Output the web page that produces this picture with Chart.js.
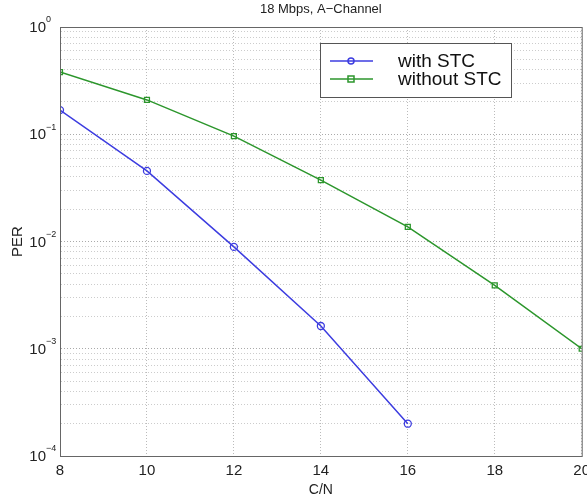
<!DOCTYPE html>
<html>
<head>
<meta charset="utf-8">
<script src="https://cdn.jsdelivr.net/npm/chart.js@4/dist/chart.umd.min.js"></script>
<style>
  html, body { margin: 0; padding: 0; background: #fff; }
  #wrap { width: 587px; height: 502px; }
</style>
</head>
<body>
<div id="wrap"><canvas id="perChart"></canvas></div>
<script>
// C/N values (dB)
const cnWith = [8, 10, 12, 14, 16];
const cnWithout = [8, 10, 12, 14, 16, 18, 20];
// packet error rate
const perWith = [0.168, 0.0455, 0.0089, 0.00163, 0.0002];
const perWithout = [0.38, 0.209, 0.096, 0.0374, 0.0137, 0.0039, 0.001];
const decades = [-4, -3, -2, -1, 0];
const xTicks = [8, 10, 12, 14, 16, 18, 20];
const chartTitle = '18 Mbps, A\u2212Channel';

const FONT = '"Liberation Sans", Arial, sans-serif';
const BLUE = '#3d3de0';
const GREEN = '#2c962c';

// box around the plot, title, legend, y tick labels with superscripts
const extras = {
    id: 'extras',
    afterDraw(chart) {
        const { ctx, chartArea: a, scales } = chart;
        ctx.save();
        ctx.strokeStyle = '#666';
        ctx.lineWidth = 1;
        ctx.strokeRect(a.left + 0.5, a.top + 0.5, a.right - a.left, a.bottom - a.top);

        // title centred over the plot area
        ctx.fillStyle = '#222';
        ctx.font = '13px ' + FONT;
        ctx.textAlign = 'center';
        ctx.textBaseline = 'middle';
        ctx.fillText(chartTitle, (a.left + a.right) / 2, 9);

        // y labels 10^k
        decades.forEach(k => {
            const y = scales.y.getPixelForValue(Math.pow(10, k));
            ctx.font = '15px ' + FONT;
            ctx.textAlign = 'right';
            ctx.fillText('10', 46, y + 1);
            ctx.font = '9px ' + FONT;
            ctx.textAlign = 'left';
            ctx.fillText(k === 0 ? '0' : '\u2212' + Math.abs(k), 46, y - 7);
        });

        // legend
        const lx = 320, ly = 43, lw = 191, lh = 54;
        ctx.fillStyle = '#fff';
        ctx.fillRect(lx, ly, lw, lh);
        ctx.strokeStyle = '#555';
        ctx.strokeRect(lx + 0.5, ly + 0.5, lw, lh);
        const items = [
            { label: 'with STC', color: BLUE, shape: 'circle', y: 61 },
            { label: 'without STC', color: GREEN, shape: 'rect', y: 79 }
        ];
        items.forEach(it => {
            ctx.strokeStyle = it.color;
            ctx.lineWidth = 1.5;
            ctx.beginPath();
            ctx.moveTo(330, it.y);
            ctx.lineTo(373, it.y);
            ctx.stroke();
            ctx.beginPath();
            if (it.shape === 'circle') ctx.arc(351, it.y, 3, 0, Math.PI * 2);
            else ctx.rect(348, it.y - 3, 6, 6);
            ctx.stroke();
            ctx.fillStyle = '#111';
            ctx.font = '19px ' + FONT;
            ctx.textAlign = 'left';
            ctx.textBaseline = 'middle';
            ctx.fillText(it.label, 398, it.y + 1);
        });
        ctx.restore();
    }
};

new Chart(document.getElementById('perChart'), {
    type: 'line',
    data: {
        datasets: [
            {
                label: 'with STC',
                data: cnWith.map((x, i) => ({ x, y: perWith[i] })),
                borderColor: BLUE,
                backgroundColor: 'rgba(0,0,0,0)',
                borderWidth: 1.5,
                pointStyle: 'circle',
                pointRadius: 3.5,
                pointBorderWidth: 1.3,
                tension: 0
            },
            {
                label: 'without STC',
                data: cnWithout.map((x, i) => ({ x, y: perWithout[i] })),
                borderColor: GREEN,
                backgroundColor: 'rgba(0,0,0,0)',
                borderWidth: 1.5,
                pointStyle: 'rect',
                pointRadius: 3.5,
                pointBorderWidth: 1.3,
                tension: 0
            }
        ]
    },
    options: {
        responsive: true,
        maintainAspectRatio: false,
        animation: false,
        layout: { padding: { left: 0, right: 5, top: 27, bottom: 0 } },
        plugins: {
            legend: { display: false },
            tooltip: { enabled: false },
            title: { display: false }
        },
        scales: {
            x: {
                type: 'linear',
                min: 8,
                max: 20,
                afterBuildTicks: s => { s.ticks = xTicks.map(v => ({ value: v })); },
                afterFit: s => { s.height = 46; s.paddingLeft = 0; s.paddingRight = 0; },
                ticks: {
                    color: '#222',
                    font: { family: FONT, size: 15 },
                    padding: 6,
                    maxRotation: 0
                },
                grid: { color: '#bbb', lineWidth: 1, drawTicks: false },
                border: { color: '#666', dash: [1, 2] },
                title: {
                    display: true,
                    text: 'C/N',
                    color: '#222',
                    font: { family: FONT, size: 14 },
                    padding: { top: 0, bottom: 3 }
                }
            },
            y: {
                type: 'logarithmic',
                min: 1e-4,
                max: 1,
                afterBuildTicks: s => {
                    const t = [];
                    decades.forEach(k => {
                        for (let m = 1; m <= 9; m++) {
                            const v = m * Math.pow(10, k);
                            if (v <= 1) t.push({ value: v, major: m === 1 });
                        }
                    });
                    s.ticks = t;
                },
                afterFit: s => { s.width = 60; s.paddingTop = 0; s.paddingBottom = 0; },
                ticks: { display: false },
                grid: {
                    color: ctx => (ctx.tick && ctx.tick.major ? '#aaa' : '#ccc'),
                    lineWidth: 1,
                    drawTicks: false
                },
                border: { color: '#666', dash: [1, 2] },
                title: {
                    display: true,
                    text: 'PER',
                    color: '#222',
                    font: { family: FONT, size: 15 },
                    padding: { top: 9, bottom: 0 }
                }
            }
        }
    },
    plugins: [extras]
});
</script>
</body>
</html>
